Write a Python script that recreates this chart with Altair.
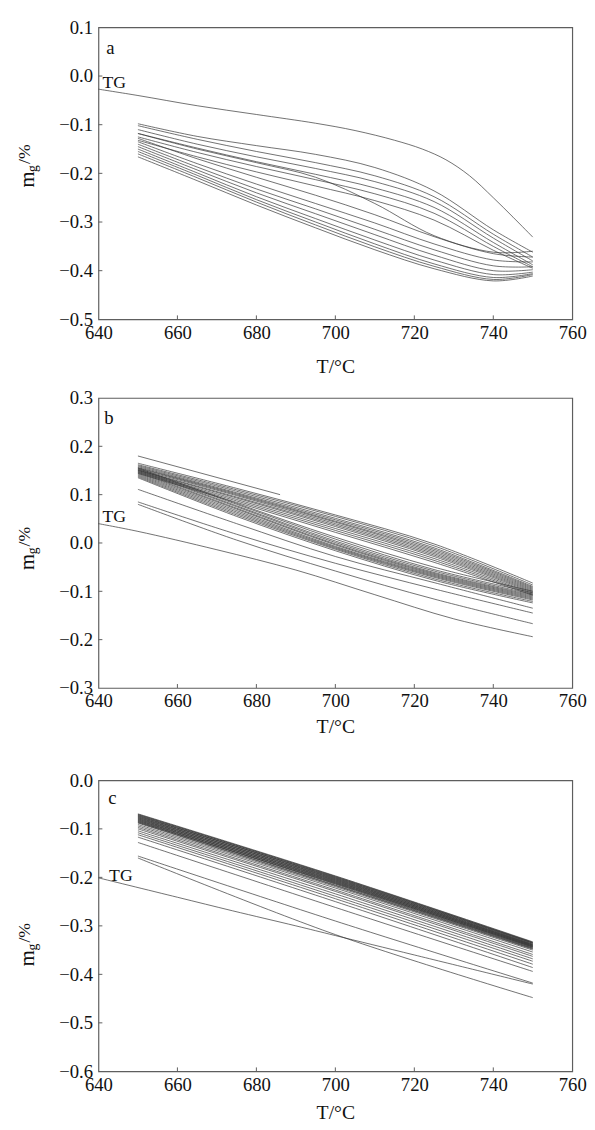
import altair as alt
import pandas as pd

FONT = "Liberation Serif"
LINE_COLOR = "#333333"
FRAME_COLOR = "#5e5e5e"
TEXT_COLOR = "#111111"

X_DOMAIN = [640, 760]
X_TICKS = [640, 660, 680, 700, 720, 740, 760]
X_INNER_TICKS = [660, 680, 700, 720, 740]

# ---------------- panel a ----------------
A_Y_DOMAIN = [-0.5, 0.1]
A_Y_TICKS = [-0.5, -0.4, -0.3, -0.2, -0.1, 0.0, 0.1]
A_T = [650, 665, 680, 695, 710, 725, 740, 750]
A_CURVES = [
    [-0.098, -0.124, -0.143, -0.161, -0.188, -0.236, -0.316, -0.362],
    [-0.102, -0.130, -0.155, -0.178, -0.205, -0.248, -0.325, -0.372],
    [-0.110, -0.140, -0.166, -0.190, -0.217, -0.258, -0.333, -0.380],
    [-0.118, -0.148, -0.176, -0.202, -0.230, -0.270, -0.342, -0.388],
    [-0.125, -0.157, -0.186, -0.213, -0.242, -0.282, -0.350, -0.392],
    [-0.132, -0.166, -0.197, -0.226, -0.256, -0.296, -0.358, -0.395],
    [-0.118, -0.150, -0.178, -0.208, -0.262, -0.328, -0.362, -0.360],
    [-0.128, -0.170, -0.208, -0.245, -0.285, -0.330, -0.365, -0.372],
    [-0.135, -0.180, -0.222, -0.262, -0.302, -0.345, -0.378, -0.382],
    [-0.140, -0.187, -0.232, -0.273, -0.315, -0.357, -0.390, -0.392],
    [-0.145, -0.193, -0.240, -0.283, -0.326, -0.368, -0.400, -0.398],
    [-0.150, -0.199, -0.248, -0.293, -0.337, -0.378, -0.408, -0.403],
    [-0.155, -0.204, -0.254, -0.300, -0.345, -0.386, -0.414, -0.406],
    [-0.160, -0.209, -0.259, -0.306, -0.351, -0.391, -0.418, -0.408],
    [-0.166, -0.215, -0.265, -0.312, -0.357, -0.396, -0.421, -0.411],
]
A_TG_T = [640, 650, 665, 680, 695, 705, 715, 722, 728, 734, 740, 745, 750]
A_TG_V = [-0.027, -0.040, -0.061, -0.079, -0.097, -0.112, -0.132, -0.150,
          -0.172, -0.205, -0.250, -0.290, -0.331]
A_LABELS = ["a", "TG"]
A_LABEL_T = [642.0, 641.0]
A_LABEL_V = [0.045, -0.024]

# ---------------- panel b ----------------
B_Y_DOMAIN = [-0.3, 0.3]
B_Y_TICKS = [-0.3, -0.2, -0.1, 0.0, 0.1, 0.2, 0.3]
B_T = [650, 675, 700, 725, 750]
B_CURVES = [
    [0.165, 0.113, 0.058, -0.002, -0.083],
    [0.162, 0.110, 0.055, -0.006, -0.087],
    [0.160, 0.107, 0.051, -0.010, -0.090],
    [0.158, 0.104, 0.048, -0.013, -0.092],
    [0.156, 0.102, 0.045, -0.016, -0.094],
    [0.155, 0.100, 0.043, -0.019, -0.096],
    [0.153, 0.098, 0.040, -0.022, -0.098],
    [0.151, 0.095, 0.037, -0.025, -0.100],
    [0.150, 0.093, 0.034, -0.028, -0.102],
    [0.148, 0.090, 0.030, -0.032, -0.104],
    [0.146, 0.087, 0.026, -0.036, -0.106],
    [0.144, 0.084, 0.022, -0.040, -0.108],
    [0.155, 0.082, 0.012, -0.050, -0.100],
    [0.153, 0.080, 0.008, -0.055, -0.103],
    [0.151, 0.077, 0.004, -0.058, -0.106],
    [0.149, 0.075, 0.001, -0.061, -0.108],
    [0.147, 0.072, -0.002, -0.063, -0.110],
    [0.145, 0.070, -0.004, -0.065, -0.112],
    [0.143, 0.067, -0.007, -0.067, -0.114],
    [0.141, 0.064, -0.009, -0.069, -0.116],
    [0.139, 0.061, -0.011, -0.071, -0.118],
    [0.137, 0.058, -0.013, -0.074, -0.121],
    [0.135, 0.055, -0.016, -0.077, -0.124],
    [0.111, 0.040, -0.028, -0.082, -0.135],
    [0.085, 0.018, -0.042, -0.095, -0.145],
    [0.080, 0.006, -0.058, -0.116, -0.167],
]
B_SHORT_T = [650, 686]
B_SHORT_V = [0.180, 0.100]
B_TG_T = [640, 650, 670, 690, 710, 730, 750]
B_TG_V = [0.040, 0.024, -0.014, -0.056, -0.107, -0.157, -0.194]
B_LABELS = ["b", "TG"]
B_LABEL_T = [641.5, 641.0]
B_LABEL_V = [0.247, 0.044]

# ---------------- panel c ----------------
C_Y_DOMAIN = [-0.6, 0.0]
C_Y_TICKS = [-0.6, -0.5, -0.4, -0.3, -0.2, -0.1, 0.0]
C_T = [650, 700, 750]
C_CURVES = [
    [-0.069, -0.197, -0.333],
    [-0.070, -0.199, -0.335],
    [-0.071, -0.198, -0.334],
    [-0.072, -0.201, -0.336],
    [-0.073, -0.202, -0.338],
    [-0.074, -0.200, -0.335],
    [-0.075, -0.204, -0.339],
    [-0.076, -0.205, -0.340],
    [-0.077, -0.203, -0.337],
    [-0.078, -0.207, -0.341],
    [-0.079, -0.208, -0.342],
    [-0.080, -0.206, -0.339],
    [-0.081, -0.210, -0.343],
    [-0.082, -0.211, -0.344],
    [-0.083, -0.209, -0.341],
    [-0.084, -0.213, -0.345],
    [-0.085, -0.214, -0.346],
    [-0.086, -0.212, -0.343],
    [-0.087, -0.216, -0.347],
    [-0.088, -0.217, -0.348],
    [-0.091, -0.219, -0.350],
    [-0.094, -0.222, -0.354],
    [-0.097, -0.226, -0.359],
    [-0.100, -0.229, -0.363],
    [-0.104, -0.234, -0.368],
    [-0.108, -0.239, -0.373],
    [-0.112, -0.244, -0.379],
    [-0.117, -0.250, -0.386],
    [-0.128, -0.262, -0.394],
    [-0.156, -0.290, -0.418],
    [-0.160, -0.318, -0.448],
]
C_TG_T = [640, 660, 674, 690, 700, 720, 750]
C_TG_V = [-0.201, -0.241, -0.269, -0.300, -0.320, -0.360, -0.420]
C_LABELS = ["c", "TG"]
C_LABEL_T = [642.5, 642.7]
C_LABEL_V = [-0.049, -0.207]

PLOT_W = 482


def curves_frame(t_list, curves, extra, tg_t, tg_v):
    rows = []
    for k, vals in enumerate(curves):
        for i, (t, v) in enumerate(zip(t_list, vals)):
            rows.append({"id": f"s{k}", "i": i, "T": t, "v": v})
    for k, (et, ev) in enumerate(extra):
        for i, (t, v) in enumerate(zip(et, ev)):
            rows.append({"id": f"e{k}", "i": i, "T": t, "v": v})
    for i, (t, v) in enumerate(zip(tg_t, tg_v)):
        rows.append({"id": "TG", "i": i, "T": t, "v": v})
    return pd.DataFrame(rows)


AXIS_COMMON = dict(
    domain=False, ticks=False, tickSize=0, grid=False,
    labelFont=FONT, labelFontSize=19, labelColor=TEXT_COLOR,
    labelOverlap=False, labelBound=False, labelFlush=False,
    titleFont=FONT, titleFontSize=20, titleColor=TEXT_COLOR, titleFontWeight="normal",
)


def ytitle_layers(y0):
    pieces = [
        ("m", 21, -66, y0),
        ("g", 14, -63, y0 - 16),
        ("/%", 18, -70, y0 - 24),
    ]
    out = []
    for txt, fs, xx, yy in pieces:
        out.append(
            alt.Chart(pd.DataFrame({"t": [txt]}))
            .mark_text(font=FONT, fontSize=fs, angle=270, align="left",
                       baseline="alphabetic", color=TEXT_COLOR)
            .encode(x=alt.value(xx), y=alt.value(yy), text="t:N")
        )
    return out


def panel(df, y_domain, y_ticks, height, lab_text, lab_t, lab_v, title_pad, ytitle_y):
    xs = alt.Scale(domain=X_DOMAIN, nice=False, zero=False)
    ys = alt.Scale(domain=y_domain, nice=False, zero=False)
    x_enc = alt.X("T:Q", scale=xs,
                  axis=alt.Axis(values=X_TICKS, format="d", title="T/°C",
                                labelPadding=4, titlePadding=title_pad, **AXIS_COMMON))
    y_enc = alt.Y("v:Q", scale=ys,
                  axis=alt.Axis(values=y_ticks, format=".1f", title=None,
                                labelPadding=6, **AXIS_COMMON))
    lines = alt.Chart(df).mark_line(stroke=LINE_COLOR, strokeWidth=0.7,
                                    interpolate="catmull-rom").encode(
        x=x_enc, y=y_enc, detail="id:N", order="i:Q")
    xt = alt.Chart(pd.DataFrame({"T": X_INNER_TICKS})).mark_rule(
        color=FRAME_COLOR, strokeWidth=1).encode(
        x=x_enc, y=alt.value(height), y2=alt.value(height - 4))
    yt = alt.Chart(pd.DataFrame({"v": y_ticks[1:-1]})).mark_rule(
        color=FRAME_COLOR, strokeWidth=1).encode(
        y=y_enc, x=alt.value(0), x2=alt.value(4))
    lab_df = pd.DataFrame({"label": lab_text, "T": lab_t, "v": lab_v,
                           "fs": [19, 18]})
    txt = alt.Chart(lab_df).mark_text(font=FONT, align="left", baseline="alphabetic",
                                      color=TEXT_COLOR).encode(
        x=x_enc, y=y_enc, text="label:N", size=alt.Size("fs:Q", scale=None, legend=None))
    return alt.layer(lines, xt, yt, txt, *ytitle_layers(ytitle_y)).properties(
        width=PLOT_W, height=height)


df_a = curves_frame(A_T, A_CURVES, [], A_TG_T, A_TG_V)
df_b = curves_frame(B_T, B_CURVES, [(B_SHORT_T, B_SHORT_V)], B_TG_T, B_TG_V)
df_c = curves_frame(C_T, C_CURVES, [], C_TG_T, C_TG_V)

pa = panel(df_a, A_Y_DOMAIN, A_Y_TICKS, 297, A_LABELS, A_LABEL_T, A_LABEL_V, 15, 163)
pb = panel(df_b, B_Y_DOMAIN, B_Y_TICKS, 295, B_LABELS, B_LABEL_T, B_LABEL_V, 6, 175)
pc = panel(df_c, C_Y_DOMAIN, C_Y_TICKS, 296, C_LABELS, C_LABEL_T, C_LABEL_V, 9, 189)

chart = alt.vconcat(alt.vconcat(pa, pb, spacing=11), pc, spacing=34).properties(
    padding={"left": 7, "top": 0, "right": 0, "bottom": 0},
    background="white",
).configure_view(stroke=FRAME_COLOR, strokeWidth=1.2)

chart.save("out.html", embed_options={"renderer": "svg", "actions": False})
